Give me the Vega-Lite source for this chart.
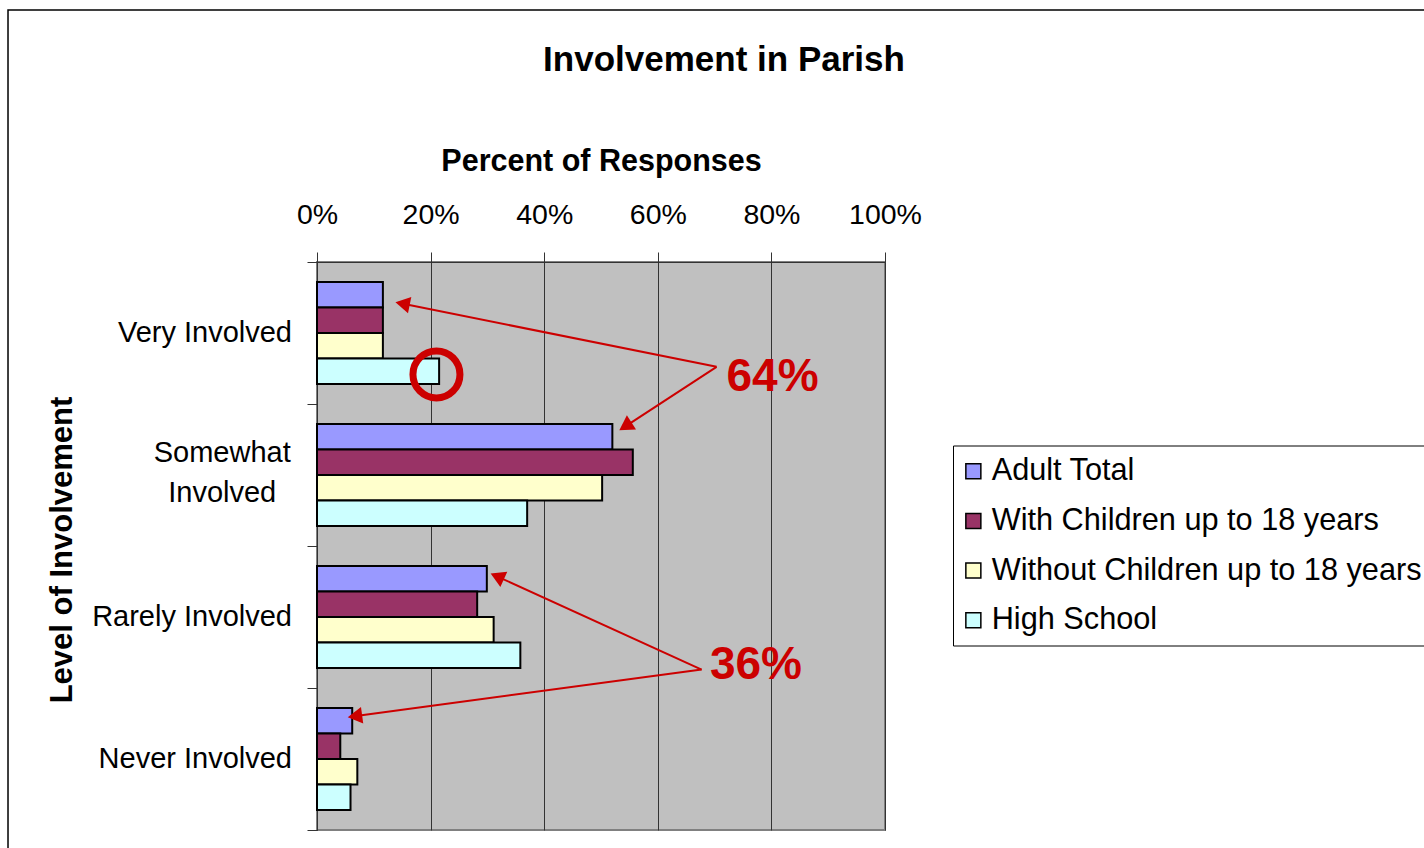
{
  "$schema": "https://vega.github.io/schema/vega-lite/v6.json",
  "autosize": {"type": "none"},
  "width": 568,
  "height": 568,
  "padding": {"left": 317, "top": 262, "right": 539, "bottom": 18},
  "background": "white",
  "config": {
    "font": "Liberation Sans",
    "view": {"fill": "#C0C0C0", "stroke": "#808080", "strokeWidth": 2}
  },
  "title": {
    "text": "Involvement in Parish",
    "fontSize": 35,
    "fontWeight": "bold",
    "color": "black",
    "anchor": "middle",
    "frame": "group",
    "dx": 123,
    "offset": -69
  },
  "datasets": {
    "responses": [
      {"level": "Very Involved", "group": "Adult Total", "percent": 11.6},
      {"level": "Very Involved", "group": "With Children up to 18 years", "percent": 11.6},
      {"level": "Very Involved", "group": "Without Children up to 18 years", "percent": 11.6},
      {"level": "Very Involved", "group": "High School", "percent": 21.5},
      {"level": "Somewhat Involved", "group": "Adult Total", "percent": 52.0},
      {"level": "Somewhat Involved", "group": "With Children up to 18 years", "percent": 55.6},
      {"level": "Somewhat Involved", "group": "Without Children up to 18 years", "percent": 50.2},
      {"level": "Somewhat Involved", "group": "High School", "percent": 37.0},
      {"level": "Rarely Involved", "group": "Adult Total", "percent": 29.9},
      {"level": "Rarely Involved", "group": "With Children up to 18 years", "percent": 28.2},
      {"level": "Rarely Involved", "group": "Without Children up to 18 years", "percent": 31.1},
      {"level": "Rarely Involved", "group": "High School", "percent": 35.8},
      {"level": "Never Involved", "group": "Adult Total", "percent": 6.2},
      {"level": "Never Involved", "group": "With Children up to 18 years", "percent": 4.1},
      {"level": "Never Involved", "group": "Without Children up to 18 years", "percent": 7.1},
      {"level": "Never Involved", "group": "High School", "percent": 5.9}
    ],
    "arrows": [
      {"x": 70.35, "y": 0.738, "x2": 14.27, "y2": 0.287},
      {"x": 70.35, "y": 0.738, "x2": 53.62, "y2": 1.175},
      {"x": 67.71, "y": 2.870, "x2": 31.0, "y2": 2.201},
      {"x": 67.71, "y": 2.870, "x2": 5.88, "y2": 3.203}
    ]
  },
  "layer": [
    {
      "data": {"name": "responses"},
      "mark": {"type": "bar", "stroke": "black", "strokeWidth": 2},
      "encoding": {
        "y": {
          "field": "level",
          "type": "nominal",
          "sort": ["Very Involved", "Somewhat Involved", "Rarely Involved", "Never Involved"],
          "scale": {"paddingInner": 0.28, "paddingOuter": 0.14},
          "axis": {
            "orient": "left",
            "title": "Level of Involvement",
            "titleFontSize": 31,
            "titleFontWeight": "bold",
            "titleColor": "black",
            "titleX": -239,
            "titleY": 287.5,
            "titleAngle": -90,
            "titleBaseline": "bottom",
            "titleAlign": "center",
            "labelFontSize": 29,
            "labelColor": "black",
            "labelPadding": {"condition": {"test": "datum.value == 'Somewhat Involved'", "value": 95.3}, "value": 25.5},
            "labelAlign": {"condition": {"test": "datum.value == 'Somewhat Involved'", "value": "center"}, "value": "right"},
            "labelOffset": {"condition": {"test": "datum.value == 'Somewhat Involved'", "value": -22}, "value": 0},
            "labelLineHeight": 40,
            "labelLimit": 400,
            "labelExpr": "datum.value == 'Somewhat Involved' ? ['Somewhat', 'Involved'] : datum.value",
            "ticks": false,
            "tickSize": 0,
            "domain": true,
            "domainColor": "#333333",
            "domainWidth": 1,
            "grid": false
          }
        },
        "yOffset": {
          "field": "group",
          "type": "nominal",
          "sort": ["Adult Total", "With Children up to 18 years", "Without Children up to 18 years", "High School"]
        },
        "x": {
          "field": "percent",
          "type": "quantitative",
          "title": "Percent of Responses",
          "scale": {"domain": [0, 100], "nice": false, "zero": true},
          "axis": {
            "orient": "top",
            "values": [0, 20, 40, 60, 80, 100],
            "labelExpr": "datum.value + '%'",
            "labelFontSize": 28.5,
            "labelColor": "black",
            "labelPadding": 23,
            "labelFlush": false,
            "labelOverlap": false,
            "tickSize": 10,
            "tickColor": "#333333",
            "domainColor": "#333333",
            "domainWidth": 1,
            "grid": true,
            "gridColor": "#333333",
            "gridWidth": 1,
            "title": "Percent of Responses",
            "titleFontSize": 30.5,
            "titleFontWeight": "bold",
            "titleColor": "black",
            "titlePadding": 24
          }
        },
        "color": {
          "field": "group",
          "type": "nominal",
          "sort": ["Adult Total", "With Children up to 18 years", "Without Children up to 18 years", "High School"],
          "scale": {
            "domain": ["Adult Total", "With Children up to 18 years", "Without Children up to 18 years", "High School"],
            "range": ["#9999FF", "#993366", "#FFFFCC", "#CCFFFF"]
          },
          "legend": {
            "title": null,
            "orient": "none",
            "legendX": 636,
            "legendY": 183.5,
            "labelFontSize": 30.7,
            "labelColor": "black",
            "labelLimit": 700,
            "labelOffset": 3,
            "symbolOffset": -5.5,
            "symbolType": "square",
            "symbolSize": 225,
            "symbolStrokeColor": "black",
            "symbolStrokeWidth": 1.5,
            "symbolOpacity": 1,
            "strokeColor": "black",
            "fillColor": "white",
            "padding": 10.5,
            "rowPadding": 17.6
          }
        }
      }
    },
    {
      "layer": [
        {
          "data": {"values": [{"x": -54.4, "x2": 200, "y": -1.775, "y2": 5}]},
          "mark": {"type": "rect", "filled": false, "stroke": "black", "strokeWidth": 1.5},
          "encoding": {
            "x": {"field": "x", "type": "quantitative", "title": "Percent of Responses", "scale": {"domain": [0, 100], "nice": false}},
            "x2": {"field": "x2"},
            "y": {
              "field": "y",
              "type": "quantitative",
              "scale": {"domain": [0, 4], "reverse": true, "nice": false, "zero": false},
              "axis": {"orient": "left", "values": [0, 1, 2, 3, 4], "labels": false, "ticks": true, "tickSize": 10, "tickColor": "#333333", "domain": false, "grid": false, "title": null}
            },
            "y2": {"field": "y2"}
          }
        },
        {
          "data": {"name": "arrows"},
          "mark": {"type": "rule", "color": "#CC0000", "strokeWidth": 2},
          "encoding": {
            "x": {"field": "x", "type": "quantitative", "title": "Percent of Responses", "scale": {"domain": [0, 100], "nice": false}},
            "x2": {"field": "x2"},
            "y": {"field": "y", "type": "quantitative", "scale": {"domain": [0, 4], "reverse": true, "nice": false, "zero": false},
              "axis": {"orient": "left", "values": [0, 1, 2, 3, 4], "labels": false, "ticks": true, "tickSize": 10, "tickColor": "#333333", "domain": false, "grid": false, "title": null}},
            "y2": {"field": "y2"}
          }
        },
        {
          "data": {"values": [{"x": 15.48, "y": 0.297}]},
          "mark": {"type": "point", "shape": "triangle", "filled": true, "color": "#CC0000", "opacity": 1, "size": 280, "angle": 281.4},
          "encoding": {
            "x": {"field": "x", "type": "quantitative", "title": "Percent of Responses", "scale": {"domain": [0, 100], "nice": false}},
            "y": {"field": "y", "type": "quantitative", "scale": {"domain": [0, 4], "reverse": true, "nice": false, "zero": false},
              "axis": {"orient": "left", "values": [0, 1, 2, 3, 4], "labels": false, "ticks": true, "tickSize": 10, "tickColor": "#333333", "domain": false, "grid": false, "title": null}}
          }
        },
        {
          "data": {"values": [{"x": 54.65, "y": 1.148}]},
          "mark": {"type": "point", "shape": "triangle", "filled": true, "color": "#CC0000", "opacity": 1, "size": 280, "angle": 236.9},
          "encoding": {
            "x": {"field": "x", "type": "quantitative", "title": "Percent of Responses", "scale": {"domain": [0, 100], "nice": false}},
            "y": {"field": "y", "type": "quantitative", "scale": {"domain": [0, 4], "reverse": true, "nice": false, "zero": false},
              "axis": {"orient": "left", "values": [0, 1, 2, 3, 4], "labels": false, "ticks": true, "tickSize": 10, "tickColor": "#333333", "domain": false, "grid": false, "title": null}}
          }
        },
        {
          "data": {"values": [{"x": 32.12, "y": 2.221}]},
          "mark": {"type": "point", "shape": "triangle", "filled": true, "color": "#CC0000", "opacity": 1, "size": 280, "angle": 294.5},
          "encoding": {
            "x": {"field": "x", "type": "quantitative", "title": "Percent of Responses", "scale": {"domain": [0, 100], "nice": false}},
            "y": {"field": "y", "type": "quantitative", "scale": {"domain": [0, 4], "reverse": true, "nice": false, "zero": false},
              "axis": {"orient": "left", "values": [0, 1, 2, 3, 4], "labels": false, "ticks": true, "tickSize": 10, "tickColor": "#333333", "domain": false, "grid": false, "title": null}}
          }
        },
        {
          "data": {"values": [{"x": 7.10, "y": 3.196}]},
          "mark": {"type": "point", "shape": "triangle", "filled": true, "color": "#CC0000", "opacity": 1, "size": 280, "angle": 262.3},
          "encoding": {
            "x": {"field": "x", "type": "quantitative", "title": "Percent of Responses", "scale": {"domain": [0, 100], "nice": false}},
            "y": {"field": "y", "type": "quantitative", "scale": {"domain": [0, 4], "reverse": true, "nice": false, "zero": false},
              "axis": {"orient": "left", "values": [0, 1, 2, 3, 4], "labels": false, "ticks": true, "tickSize": 10, "tickColor": "#333333", "domain": false, "grid": false, "title": null}}
          }
        },
        {
          "data": {"values": [{"x": 21.03, "y": 0.792}]},
          "mark": {"type": "point", "shape": "circle", "filled": false, "color": "#CC0000", "opacity": 1, "size": 2209, "strokeWidth": 7},
          "encoding": {
            "x": {"field": "x", "type": "quantitative", "title": "Percent of Responses", "scale": {"domain": [0, 100], "nice": false}},
            "y": {"field": "y", "type": "quantitative", "scale": {"domain": [0, 4], "reverse": true, "nice": false, "zero": false},
              "axis": {"orient": "left", "values": [0, 1, 2, 3, 4], "labels": false, "ticks": true, "tickSize": 10, "tickColor": "#333333", "domain": false, "grid": false, "title": null}}
          }
        },
        {
          "data": {"values": [{"x": 72.1, "y": 0.905, "label": "64%"}, {"x": 69.17, "y": 2.935, "label": "36%"}]},
          "mark": {"type": "text", "align": "left", "baseline": "alphabetic", "fontSize": 46, "fontWeight": "bold", "color": "#CC0000"},
          "encoding": {
            "x": {"field": "x", "type": "quantitative", "title": "Percent of Responses", "scale": {"domain": [0, 100], "nice": false}},
            "y": {"field": "y", "type": "quantitative", "scale": {"domain": [0, 4], "reverse": true, "nice": false, "zero": false},
              "axis": {"orient": "left", "values": [0, 1, 2, 3, 4], "labels": false, "ticks": true, "tickSize": 10, "tickColor": "#333333", "domain": false, "grid": false, "title": null}},
            "text": {"field": "label"}
          }
        }
      ]
    }
  ],
  "resolve": {"scale": {"y": "independent"}, "axis": {"y": "independent"}}
}
